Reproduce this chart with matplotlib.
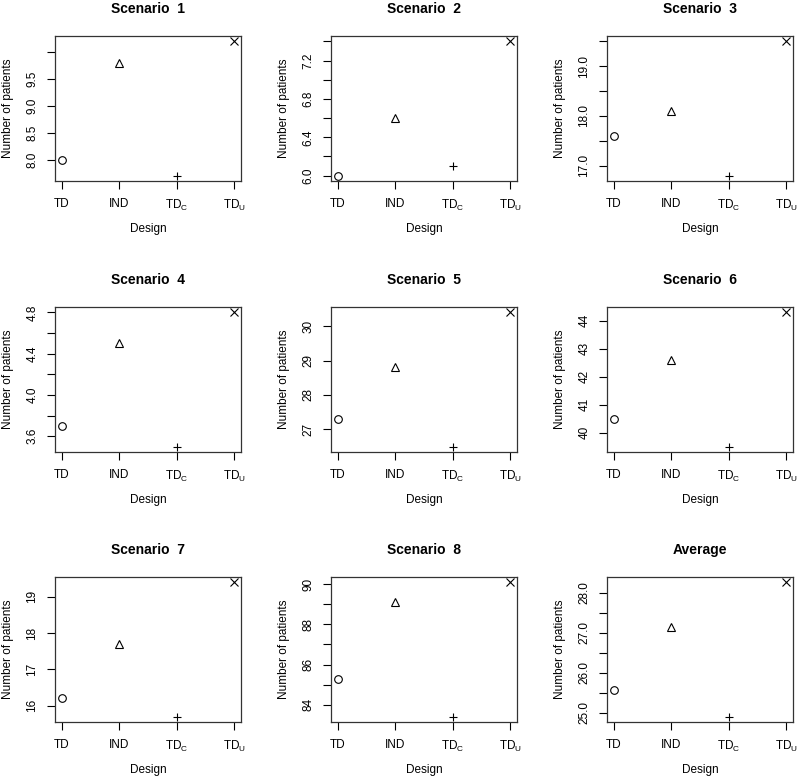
import numpy as np
import matplotlib
matplotlib.use('Agg')
import matplotlib.pyplot as plt

plt.rcParams['font.family'] = ['Liberation Sans', 'DejaVu Sans']

# DATA #

designs = ['TD', 'IND', 'TD$_{\\mathregular{C}}$', 'TD$_{\\mathregular{U}}$']
titles = ['Scenario  1', 'Scenario  2', 'Scenario  3',
          'Scenario  4', 'Scenario  5', 'Scenario  6',
          'Scenario  7', 'Scenario  8', 'Average']

s1 = [8.0, 9.8, 7.7, 10.2]
s2 = [6.0, 6.6, 6.1, 7.4]
s3 = [17.6, 18.1, 16.8, 19.5]
s4 = [3.7, 4.5, 3.5, 4.8]
s5 = [27.3, 28.8, 26.5, 30.4]
s6 = [40.5, 42.6, 39.5, 44.3]
s7 = [16.2, 17.7, 15.7, 19.4]
s8 = [85.3, 89.1, 83.4, 90.1]
avg = [25.575, 27.15, 24.9, 28.2625]

# tick values and their labels (R drops some labels when they overlap)
ticks1 = [8.0, 8.5, 9.0, 9.5, 10.0]
labels1 = ['8.0', '8.5', '9.0', '9.5', '']
ticks2 = [6.0, 6.2, 6.4, 6.6, 6.8, 7.0, 7.2, 7.4]
labels2 = ['6.0', '', '6.4', '', '6.8', '', '7.2', '']
ticks3 = [17.0, 17.5, 18.0, 18.5, 19.0, 19.5]
labels3 = ['17.0', '', '18.0', '', '19.0', '']
ticks4 = [3.6, 3.8, 4.0, 4.2, 4.4, 4.6, 4.8]
labels4 = ['3.6', '', '4.0', '', '4.4', '', '4.8']
ticks5 = [27, 28, 29, 30]
labels5 = ['27', '28', '29', '30']
ticks6 = [40, 41, 42, 43, 44]
labels6 = ['40', '41', '42', '43', '44']
ticks7 = [16, 17, 18, 19]
labels7 = ['16', '17', '18', '19']
ticks8 = [84, 85, 86, 87, 88, 89, 90]
labels8 = ['84', '', '86', '', '88', '', '90']
ticks9 = [25.0, 25.5, 26.0, 26.5, 27.0, 27.5, 28.0]
labels9 = ['25.0', '', '26.0', '', '27.0', '', '28.0']

series = [s1, s2, s3, s4, s5, s6, s7, s8, avg]
ticks = [ticks1, ticks2, ticks3, ticks4, ticks5, ticks6, ticks7, ticks8, ticks9]
labels = [labels1, labels2, labels3, labels4, labels5, labels6, labels7, labels8, labels9]

markers = ['o', '^', '+', 'x']

# LAYOUT (pixels) #

W, H = 800, 779
lefts = [55, 331, 607]
tops = [36, 307, 577]
pw, ph = 186, 145

fig = plt.figure(figsize=(W / 100, H / 100), dpi=100)

for i in range(9):
    r, c = divmod(i, 3)
    ax = fig.add_axes([lefts[c] / W, 1 - (tops[r] + ph) / H, pw / W, ph / H])
    vals = series[i]
    x = np.arange(1, 5)
    for j in range(4):
        ax.plot(x[j], vals[j], marker=markers[j], ms=5.5, mfc='none',
                mec='black', mew=0.8, ls='none')
    lo, hi = min(vals), max(vals)
    rg = hi - lo
    ax.set_ylim(lo - 0.04 * rg, hi + 0.04 * rg)
    ax.set_xlim(1 - 0.12, 4 + 0.12)
    ax.set_xticks(x)
    ax.set_xticklabels(designs)
    ax.set_yticks(ticks[i])
    ax.set_yticklabels(labels[i], rotation=90, va='center')
    ax.tick_params(direction='out', length=6, width=0.8, labelsize=8.5,
                   colors='black', pad=6)
    for sp in ax.spines.values():
        sp.set_linewidth(0.9)
        sp.set_color('#333333')
    ax.set_title(titles[i], fontsize=10, fontweight='bold', y=1 + 27 / ph,
                 va='center', pad=0)
    ax.set_xlabel('Design', fontsize=8.5)
    ax.set_ylabel('Number of patients', fontsize=8.5)
    ax.xaxis.label.set_va('center')
    ax.yaxis.label.set_va('center')
    ax.xaxis.set_label_coords(0.5, -48 / ph)
    ax.yaxis.set_label_coords(-47 / pw, 0.5)

fig.savefig('out.png', dpi=100)
